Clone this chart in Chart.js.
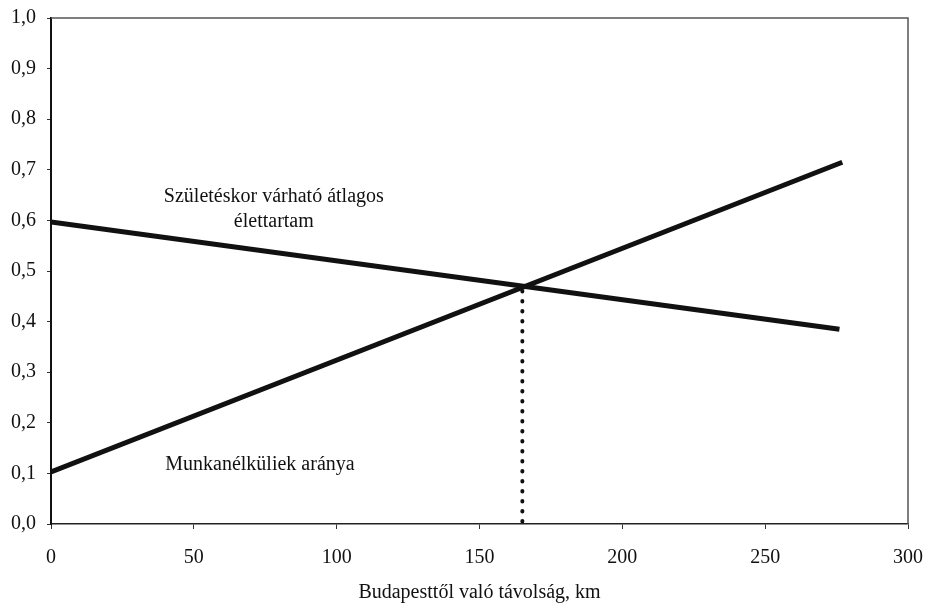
<!DOCTYPE html>
<html>
<head>
<meta charset="utf-8">
<script src="https://cdn.jsdelivr.net/npm/chart.js@4.4.1/dist/chart.umd.min.js"></script>
<style>
    body { margin: 0; background: #fff; }
    #chartWrap { width: 925px; height: 603px; }
</style>
</head>
<body>
<div id="chartWrap"><canvas id="distanceChart" width="925" height="603"></canvas></div>
<script>
// values
const lifeKm = [0, 276];
const lifeExpectancy = [0.597, 0.385];
const unempKm = [0, 277];
const unemploymentRate = [0.103, 0.715];
const crossKm = [165, 165];
const crossMarker = [0.005, 0.466];

const xTicks = [0, 50, 100, 150, 200, 250, 300];
const yTicks = [0, 0.1, 0.2, 0.3, 0.4, 0.5, 0.6, 0.7, 0.8, 0.9, 1.0];

const lifeLabel = ['Születéskor várható átlagos', 'élettartam'];
const unempLabel = 'Munkanélküliek aránya';
const xTitle = 'Budapesttől való távolság, km';

const serif = '"Liberation Serif", "Times New Roman", serif';

function toPoints(xs, ys) {
    return xs.map((x, i) => ({ x: x, y: ys[i] }));
}

// grey frame on top/right + in-chart text labels
const framePlugin = {
    id: 'frame',
    beforeDatasetsDraw(chart) {
        const ctx = chart.ctx;
        const a = chart.chartArea;
        ctx.save();
        ctx.strokeStyle = '#555';
        ctx.lineWidth = 1.5;
        ctx.beginPath();
        ctx.moveTo(a.left, a.top);
        ctx.lineTo(a.right, a.top);
        ctx.lineTo(a.right, a.bottom);
        ctx.stroke();
        ctx.restore();
    },
    afterDatasetsDraw(chart) {
        const ctx = chart.ctx;
        const xs = chart.scales.x;
        const ys = chart.scales.y;
        ctx.save();
        ctx.fillStyle = '#111';
        ctx.font = '20px ' + serif;
        ctx.textBaseline = 'middle';
        ctx.textAlign = 'center';
        ctx.fillText(lifeLabel[0], xs.getPixelForValue(78), ys.getPixelForValue(0.646));
        ctx.fillText(lifeLabel[1], xs.getPixelForValue(78), ys.getPixelForValue(0.597));
        ctx.textAlign = 'left';
        ctx.fillText(unempLabel, xs.getPixelForValue(40), ys.getPixelForValue(0.117));
        ctx.restore();
    }
};

const ctx = document.getElementById('distanceChart').getContext('2d');
new Chart(ctx, {
    type: 'scatter',
    data: {
        datasets: [{
            data: toPoints(lifeKm, lifeExpectancy),
            showLine: true,
            borderColor: '#111',
            borderWidth: 5,
            pointRadius: 0
        }, {
            data: toPoints(unempKm, unemploymentRate),
            showLine: true,
            borderColor: '#111',
            borderWidth: 5,
            pointRadius: 0
        }, {
            data: toPoints(crossKm, crossMarker),
            showLine: true,
            borderColor: '#111',
            borderWidth: 4,
            borderDash: [0.5, 9.5],
            borderCapStyle: 'round',
            pointRadius: 0
        }]
    },
    options: {
        responsive: false,
        animation: false,
        layout: { padding: { top: 18, right: 17, left: 0, bottom: 0 } },
        plugins: {
            legend: { display: false },
            tooltip: { enabled: false }
        },
        scales: {
            x: {
                type: 'linear',
                min: 0,
                max: 300,
                afterBuildTicks: (scale) => { scale.ticks = xTicks.map(v => ({ value: v })); },
                afterFit: (scale) => {
                    scale.height = 79;
                    scale.paddingLeft = 0;
                    scale.paddingRight = 0;
                },
                grid: { drawOnChartArea: false, tickLength: 5, color: '#333' },
                border: { color: '#222', width: 1.5 },
                ticks: {
                    color: '#111',
                    padding: 17,
                    maxRotation: 0,
                    font: { family: serif, size: 20 }
                },
                title: {
                    display: true,
                    text: xTitle,
                    color: '#111',
                    padding: { top: 0, bottom: 0 },
                    font: { family: serif, size: 20, lineHeight: 1 }
                }
            },
            y: {
                min: 0,
                max: 1,
                afterBuildTicks: (scale) => { scale.ticks = yTicks.map(v => ({ value: v })); },
                afterFit: (scale) => {
                    scale.width = 51;
                    scale.paddingTop = 0;
                    scale.paddingBottom = 0;
                },
                grid: { drawOnChartArea: false, tickLength: 4, color: '#333' },
                border: { color: '#111', width: 2 },
                ticks: {
                    color: '#111',
                    padding: 11,
                    font: { family: serif, size: 20 },
                    callback: (v) => Number(v).toFixed(1).replace('.', ',')
                }
            }
        }
    },
    plugins: [framePlugin]
});
</script>
</body>
</html>
